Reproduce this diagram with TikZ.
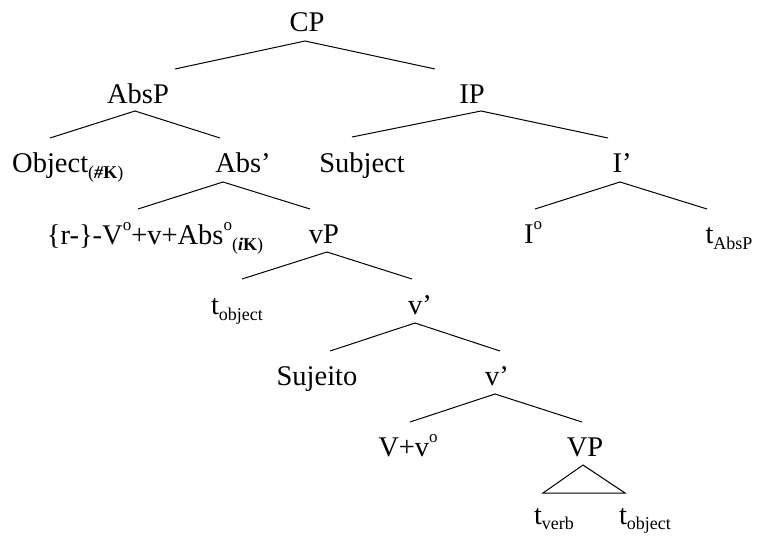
\documentclass[tikz,border=0pt]{standalone}
\usepackage{fontspec}
\setmainfont{Liberation Serif}
\newcommand\lsub[2][6pt]{\raisebox{-#1}{\fontsize{18}{18}\selectfont #2}}
\newcommand\lsup{\raisebox{14pt}{\fontsize{17}{17}\selectfont o}}
\begin{document}
\begin{tikzpicture}[x=1pt,y=1pt,
  tn/.style={inner sep=0pt, anchor=base, font=\fontsize{28.5}{30}\selectfont},
  br/.style={line width=1pt, line join=miter}]
\useasboundingbox (0,0) rectangle (759,-535);
% nodes (base at baseline)
\node[tn] (CP) at (307,-32) {CP};
\node[tn] (AbsP) at (138,-103) {AbsP};
\node[tn] (IP) at (472,-103) {IP};
\node[tn, anchor=base west] (Obj) at (12,-172) {Object\lsub{(\textbf{\textit{\#}K})}};
\node[tn] (Absbar) at (243,-172) {Abs’};
\node[tn] (Subj) at (362,-172) {Subject};
\node[tn] (Ibar) at (622,-172) {I’};
\node[tn] (Head) at (155,-244) {\{r-\}-V\lsup+v+Abs\lsup\lsub{(\textbf{\textit{i}K})}};
\node[tn] (vP) at (324,-243) {vP};
\node[tn] (I0) at (533,-243) {I\lsup};
\node[tn] (tAbsP) at (729,-243) {t\lsub{AbsP}};
\node[tn] (tobj1) at (237,-314) {t\lsub{object}};
\node[tn] (vbar1) at (420,-314) {v’};
\node[tn] (Suj) at (317,-385) {Sujeito};
\node[tn] (vbar2) at (497,-385) {v’};
\node[tn] (Vv) at (408,-456) {V+v\lsup};
\node[tn] (VP) at (585,-456) {VP};
\node[tn] (tverb) at (554,-524) {t\lsub[5pt]{verb}};
\node[tn] (tobj2) at (645,-524) {t\lsub[5pt]{object}};
% branch points
\coordinate (CPa) at (305,-41);  \coordinate (CPl) at (175,-69);  \coordinate (CPr) at (435,-69);
\coordinate (AbsPa) at (135,-111); \coordinate (AbsPl) at (50,-138); \coordinate (AbsPr) at (220,-138);
\coordinate (IPa) at (481,-111); \coordinate (IPl) at (352,-137); \coordinate (IPr) at (608,-138);
\coordinate (Absbara) at (223,-182); \coordinate (Absbarl) at (138,-209); \coordinate (Absbarr) at (310,-209);
\coordinate (Ibara) at (620,-182); \coordinate (Ibarl) at (535,-209); \coordinate (Ibarr) at (707,-209);
\coordinate (vPa) at (327,-252); \coordinate (vPl) at (242,-279); \coordinate (vPr) at (412,-279);
\coordinate (vbar1a) at (415,-323); \coordinate (vbar1l) at (330,-351); \coordinate (vbar1r) at (500,-351);
\coordinate (vbar2a) at (495,-394); \coordinate (vbar2l) at (410,-422); \coordinate (vbar2r) at (582,-422);
\coordinate (VPa) at (583,-465); \coordinate (VPl) at (543,-493); \coordinate (VPr) at (625,-493);
% branches
\draw[br] (CPl) -- (CPa) -- (CPr);
\draw[br] (AbsPl) -- (AbsPa) -- (AbsPr);
\draw[br] (IPl) -- (IPa) -- (IPr);
\draw[br] (Absbarl) -- (Absbara) -- (Absbarr);
\draw[br] (Ibarl) -- (Ibara) -- (Ibarr);
\draw[br] (vPl) -- (vPa) -- (vPr);
\draw[br] (vbar1l) -- (vbar1a) -- (vbar1r);
\draw[br] (vbar2l) -- (vbar2a) -- (vbar2r);
\draw[br] (VPa) -- (VPl) -- (VPr) -- cycle;
\end{tikzpicture}
\end{document}
